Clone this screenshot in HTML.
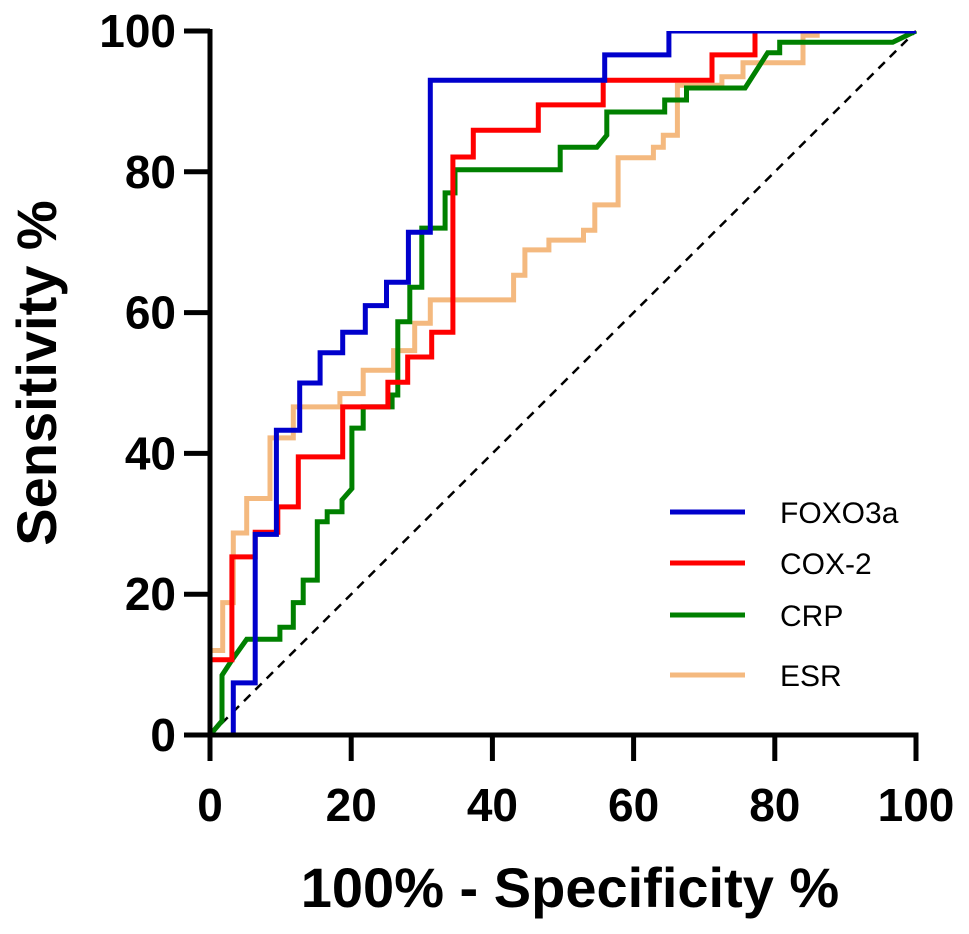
<!DOCTYPE html>
<html><head><meta charset="utf-8"><style>
html,body{margin:0;padding:0;background:#fff;}
svg{display:block;font-family:"Liberation Sans",Arial,sans-serif;}
</style></head><body>
<svg id="chart" width="969" height="934" viewBox="0 0 969 934">
<defs><clipPath id="plotclip"><rect x="180" y="31" width="760" height="730"/></clipPath></defs>
</svg>
<script>
const xTicks=[0,20,40,60,80,100];
const yTicks=[0,20,40,60,80,100];
const seriesNames=["FOXO3a","COX-2","CRP","ESR"];
const seriesColors=["#0000cc","#ff0000","#008000","#f4b97f"];
const foxo3a=[[0,0],[3.3,0],[3.3,7.4],[6.4,7.4],[6.4,28.5],[9.4,28.5],[9.4,43.3],[12.7,43.3],[12.7,50],[15.6,50],[15.6,54.3],[18.8,54.3],[18.8,57.2],[22,57.2],[22,61],[25,61],[25,64.3],[28.1,64.3],[28.1,71.4],[31.2,71.4],[31.2,93],[55.9,93],[55.9,96.6],[65,96.6],[65,100],[100,100]];
const cox2=[[0,0],[0,10.7],[3.1,10.7],[3.1,25.3],[6.4,25.3],[6.4,28.8],[9.6,28.8],[9.6,32.4],[12.5,32.4],[12.5,39.5],[18.8,39.5],[18.8,46.6],[25.2,46.6],[25.2,50.1],[28,50.1],[28,53.7],[31.4,53.7],[31.4,57.2],[34.4,57.2],[34.4,82.1],[37.3,82.1],[37.3,85.9],[46.5,85.9],[46.5,89.5],[55.7,89.5],[55.7,93],[71.1,93],[71.1,96.6],[77.2,96.6],[77.2,100],[100,100]];
const crp=[[0,0],[1.7,2],[1.7,8.5],[3,10.5],[5.2,13.6],[9.9,13.6],[9.9,15.3],[11.8,15.3],[11.8,18.8],[13.2,18.8],[13.2,22],[15.2,22],[15.2,30.3],[16.6,30.3],[16.6,31.7],[18.7,31.7],[18.7,33.4],[20.1,35],[20.1,43.6],[21.7,43.6],[21.7,46.6],[25.8,46.6],[25.8,48.3],[26.6,48.3],[26.6,58.7],[28.3,58.7],[28.3,63.6],[30,63.6],[30,72],[33.3,72],[33.3,77],[34.7,77],[34.7,80.3],[49.6,80.3],[49.6,83.5],[54.8,83.5],[56.2,85.2],[56.2,88.5],[64.4,88.5],[64.4,90.2],[67.5,90.2],[67.5,91.9],[75.8,91.9],[79,96.9],[80.7,96.9],[80.7,98.4],[96.7,98.4],[100,100]];
const esr=[[0,0],[0,12],[1.8,12],[1.8,18.8],[3.3,18.8],[3.3,28.7],[5.2,28.7],[5.2,33.6],[8.5,33.6],[8.5,42.2],[11.8,42.2],[11.8,46.6],[18.4,46.6],[18.4,48.5],[21.7,48.5],[21.7,51.8],[26,51.8],[26,54.6],[29,54.6],[29,58.5],[31.2,58.5],[31.2,61.8],[43,61.8],[43,65.3],[44.6,65.3],[44.6,68.9],[48,68.9],[48,70.3],[52.9,70.3],[52.9,71.7],[54.5,71.7],[54.5,75.3],[57.8,75.3],[57.8,82],[62.8,82],[62.8,83.5],[64.2,83.5],[64.2,85.2],[66.2,85.2],[66.2,92.3],[72.5,92.3],[72.5,93.5],[75.5,93.5],[75.5,95.5],[84,95.5],[84,99.4],[86,99.4],[86,100],[100,100]];
const allSeries=[foxo3a,cox2,crp,esr];

const NS="http://www.w3.org/2000/svg";
const svg=document.getElementById("chart");
const X0=210,X1=916,Y0=735,Y1=31;
const sx=v=>X0+(X1-X0)*v/100;
const sy=v=>Y0-(Y0-Y1)*v/100;
function mk(tag,attrs,parent){const e=document.createElementNS(NS,tag);for(const k in attrs)e.setAttribute(k,attrs[k]);(parent||svg).appendChild(e);return e;}

const diag=mk("line",{x1:sx(0),y1:sy(0),x2:sx(100),y2:sy(100),stroke:"#000","stroke-width":2.5,"stroke-dasharray":"9,7"});



const plotG=mk("g",{"clip-path":"url(#plotclip)"});


const order=[3,2,1,0];
order.forEach(i=>{
  const pts=allSeries[i].map(p=>sx(p[0]).toFixed(1)+","+sy(p[1]).toFixed(1)).join(" ");
  const pl=mk("polyline",{points:pts,fill:"none",stroke:seriesColors[i],"stroke-width":5,"stroke-linejoin":"miter"},plotG);
  
  
});

const ya=mk("line",{x1:X0,y1:Y1-2,x2:X0,y2:Y0+2.5,stroke:"#000","stroke-width":5});


const xa=mk("line",{x1:X0-2.5,y1:Y0,x2:X1+2.5,y2:Y0,stroke:"#000","stroke-width":5});



yTicks.forEach(v=>{
  const t=mk("line",{x1:X0-26,y1:sy(v),x2:X0,y2:sy(v),stroke:"#000","stroke-width":5});
  
  
  const l=mk("text",{x:X0-34,y:sy(v)+16,"text-anchor":"end","font-size":46,"font-weight":"bold"});
  l.textContent=v;
  
  
});
xTicks.forEach(v=>{
  const t=mk("line",{x1:sx(v),y1:Y0,x2:sx(v),y2:Y0+26,stroke:"#000","stroke-width":5});
  
  
  const l=mk("text",{x:sx(v),y:Y0+86,"text-anchor":"middle","font-size":46,"font-weight":"bold"});
  l.textContent=v;
  
  
});

const xt=mk("text",{x:570,y:907,"text-anchor":"middle","font-size":56,"font-weight":"bold"});
xt.textContent="100% - Specificity %";


const yt=mk("text",{x:0,y:0,"text-anchor":"middle","font-size":56,"font-weight":"bold",transform:"translate(56,373) rotate(-90)"});
yt.textContent="Sensitivity %";



const legY=[512,563,615,675];
seriesNames.forEach((n,i)=>{
  const g=mk("g",{});
  
  
  mk("line",{x1:670,y1:legY[i],x2:745,y2:legY[i],stroke:seriesColors[i],"stroke-width":5},g);
  const t=mk("text",{x:780,y:legY[i]+11,"font-size":30},g);
  t.textContent=n;
});
</script>
</body></html>
